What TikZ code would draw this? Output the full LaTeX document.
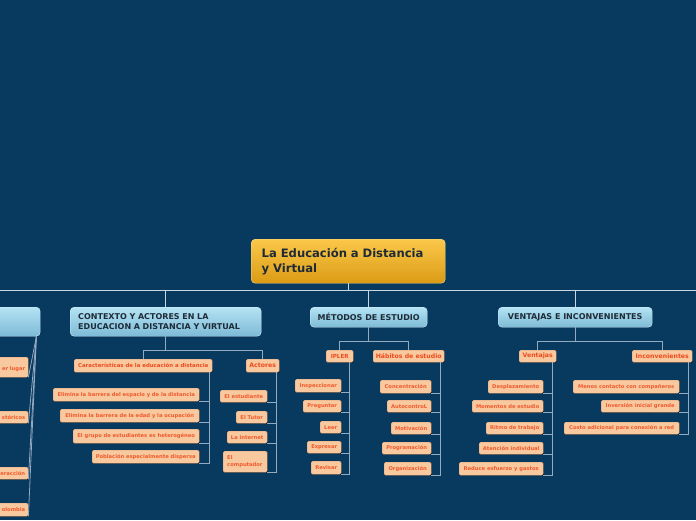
\documentclass[tikz,border=0pt]{standalone}
\usepackage{fontspec}
\setmainfont{DejaVu Sans}
\usetikzlibrary{shadows}
\definecolor{bg}{HTML}{08395E}
\definecolor{lnA}{HTML}{C9D7E3}
\definecolor{lnB}{HTML}{93AABF}
\definecolor{rootT}{HTML}{FBC84B}
\definecolor{rootB}{HTML}{DB9B14}
\definecolor{blueT}{HTML}{B4E3F4}
\definecolor{blueB}{HTML}{7DBAD6}
\definecolor{peach}{HTML}{F8C89F}
\definecolor{peachD}{HTML}{DDA57E}
\definecolor{txtR}{HTML}{EE4A1C}
\definecolor{txtO}{HTML}{F15A2C}
\definecolor{txtD}{HTML}{1E2B36}
\tikzset{
 rootbox/.style={draw=rootT!70!white, top color=rootT, bottom color=rootB, rounded corners=4pt, font=\bfseries\fontsize{11.6}{15}\selectfont, text=txtD, align=left, inner xsep=10.5pt, inner ysep=0pt},
 topic/.style={draw=blueT!60!white, top color=blueT, bottom color=blueB, rounded corners=4pt, font=\bfseries\fontsize{8}{9.5}\selectfont, text=txtD, inner sep=0pt},
 sub/.style={draw=peachD, fill=peach, rounded corners=1.5pt, font=\bfseries\fontsize{6.2}{7}\selectfont, text=txtR, inner sep=0pt, drop shadow={shadow xshift=0.7pt, shadow yshift=-0.7pt, fill=black, opacity=0.4}},
 leaf/.style={draw=peachD, fill=peach, rounded corners=1.5pt, font=\bfseries\fontsize{5.2}{7.5}\selectfont, text=txtO, inner sep=0pt, drop shadow={shadow xshift=0.7pt, shadow yshift=-0.7pt, fill=black, opacity=0.4}},
 edgeleaf/.style={leaf, align=right, inner xsep=3pt, text width=102pt},
 conA/.style={draw=lnA, line width=1pt},
 conB/.style={draw=lnB, line width=0.8pt},
}
\newcommand\bx[7]{\node[#2, anchor=north west, minimum width={(#5)-(#3)}, minimum height={(#6)-(#4)}] (#1) at (#3,#4) {#7};}
\begin{document}
\begin{tikzpicture}[x=1pt,y=-1pt]
\useasboundingbox (0,0) rectangle (696,520);
\fill[bg] (0,0) rectangle (696,520);
% root
\bx{root}{rootbox, text width=173pt}{251}{239}{445}{283}{La Educación a Distancia\\y Virtual}
% level 1
\bx{lft}{topic}{-120}{307}{40}{336}{}
\bx{ctx}{topic, align=left, inner xsep=8pt, text width=175pt}{70}{307}{261}{336}{CONTEXTO Y ACTORES EN LA\\EDUCACION A DISTANCIA Y VIRTUAL}
\bx{met}{topic}{310}{307}{427}{327}{MÉTODOS DE ESTUDIO}
\bx{ven}{topic}{498}{307}{652}{327}{VENTAJAS E INCONVENIENTES}
% level 2
\bx{carac}{sub, font=\bfseries\fontsize{5.4}{6}\selectfont}{74}{359}{212}{372}{Características de la educación a distancia}
\bx{act}{sub}{246}{359}{279}{372}{Actores}
\bx{ipler}{sub, font=\bfseries\fontsize{5.6}{6}\selectfont}{326}{350}{353}{362}{IPLER}
\bx{hab}{sub}{373}{350}{444}{362}{Hábitos de estudio}
\bx{vent}{sub}{519}{350}{556}{362}{Ventajas}
\bx{inc}{sub}{632}{350}{692}{362}{Inconvenientes}
% leaves: caracteristicas
\bx{c1}{leaf}{53}{388}{199}{401}{Elimina la barrera del espacio y de la distancia}
\bx{c2}{leaf}{60}{409}{199}{422}{Elimina la barrera de la edad y la ocupación}
\bx{c3}{leaf}{73}{429}{199}{443}{El grupo de estudiantes es heterogéneo}
\bx{c4}{leaf}{92}{450}{199}{463}{Población especialmente dispersa}
% actores
\bx{a1}{leaf}{220}{390}{267}{402}{El estudiante}
\bx{a2}{leaf}{236}{411}{267}{423}{El Tutor}
\bx{a3}{leaf}{227}{431}{267}{443}{La internet}
\bx{a4}{leaf, align=left, inner xsep=4pt, text width=36pt}{223}{451}{267}{472}{El\\computador}
% ipler
\bx{i1}{leaf}{295}{379}{341}{392}{Inspeccionar}
\bx{i2}{leaf}{303}{400}{341}{412}{Preguntar}
\bx{i3}{leaf}{320}{421}{341}{433}{Leer}
\bx{i4}{leaf}{307}{441}{341}{453}{Expresar}
\bx{i5}{leaf}{311}{461}{341}{474}{Revisar}
% habitos
\bx{h1}{leaf}{380}{380}{431}{393}{Concentración}
\bx{h2}{leaf}{387}{400}{431}{412}{AutocontroL}
\bx{h3}{leaf}{391}{422}{431}{434}{Motivación}
\bx{h4}{leaf}{382}{442}{431}{454}{Programación}
\bx{h5}{leaf}{384}{462}{431}{475}{Organización}
% ventajas
\bx{v1}{leaf}{488}{380}{543}{393}{Desplazamiento}
\bx{v2}{leaf}{472}{400}{543}{412}{Momentos de estudio}
\bx{v3}{leaf}{486}{422}{543}{434}{Ritmo de trabajo}
\bx{v4}{leaf}{479}{442}{543}{454}{Atención individual}
\bx{v5}{leaf}{459}{462}{543}{475}{Reduce esfuerzo y gastos}
% inconvenientes
\bx{n1}{leaf}{573}{380}{679}{393}{Menos contacto con compañeros}
\bx{n2}{leaf}{601}{400}{679}{412}{Inversión inicial grande}
\bx{n3}{leaf}{564}{422}{679}{434}{Costo adicional para conexión a red}
% left partial leaves
\bx{l1}{edgeleaf}{-80}{357}{28}{377}{\mbox{}\\er lugar}
\bx{l2}{edgeleaf}{-80}{411}{28}{423}{stóricos}
\bx{l3}{edgeleaf}{-80}{467}{28}{479}{eracción}
\bx{l4}{edgeleaf}{-80}{503}{28}{516}{olombia}
% connectors: root level
\coordinate (le) at (0,290);
\coordinate (re) at (696,290);
\draw[conA] (le) -- (re);
\draw[conA] (root.south) -- (root.south |- le);
\foreach \t in {lft,ctx,met,ven}{\draw[conA] (\t.north |- le) -- (\t.north);}
% level1 -> level2
\draw[conB] (ctx.south) -- ++(0,14) coordinate (ctxj);
\draw[conB] (ctxj) -| (carac.north);
\draw[conB] (ctxj) -| (act.north);
\draw[conB] (met.south) -- ++(0,14) coordinate (metj);
\draw[conB] (metj) -| (ipler.north);
\draw[conB] (metj) -| (hab.north);
\draw[conB] (ven.south) -- ++(0,14) coordinate (venj);
\draw[conB] (venj) -| (vent.north);
\draw[conB] (venj) -| (inc.north);
% level2 -> leaves
\foreach \c in {c1,c2,c3,c4}{\draw[conB] ([xshift=-3pt]carac.south east) |- (\c.south east);}
\foreach \c in {a1,a2,a3,a4}{\draw[conB] ([xshift=-3pt]act.south east) |- (\c.south east);}
\foreach \c in {i1,i2,i3,i4,i5}{\draw[conB] ([xshift=-4pt]ipler.south east) |- (\c.south east);}
\foreach \c in {h1,h2,h3,h4,h5}{\draw[conB] ([xshift=-4pt]hab.south east) |- (\c.south east);}
\foreach \c in {v1,v2,v3,v4,v5}{\draw[conB] ([xshift=-4pt]vent.south east) |- (\c.south east);}
\foreach \c in {n1,n2,n3}{\draw[conB] ([xshift=-4pt]inc.south east) |- (\c.south east);}
\foreach \c in {l1,l2,l3,l4}{\draw[conB] ([xshift=-4pt]lft.south east) -- (\c.south east);}
\end{tikzpicture}
\end{document}
